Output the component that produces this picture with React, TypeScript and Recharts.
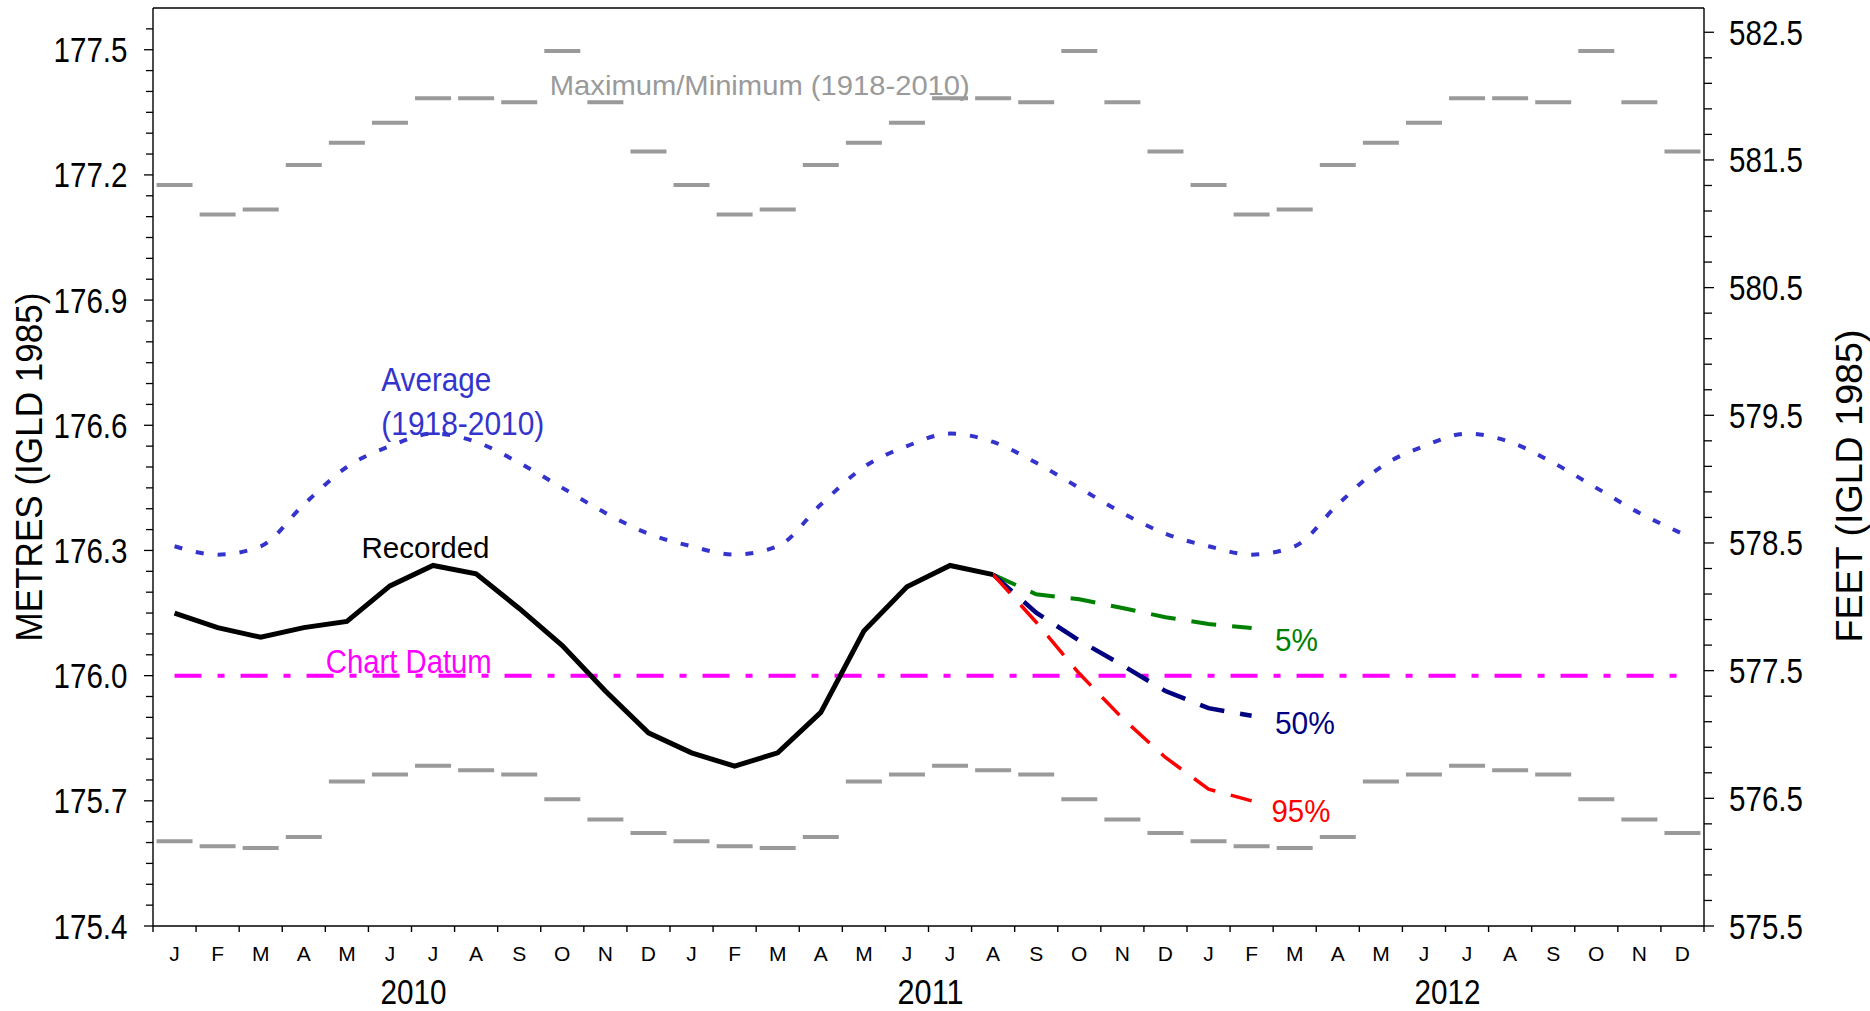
import React from 'react';
import { ComposedChart, Line, XAxis, YAxis, ReferenceLine, ReferenceDot } from 'recharts';

// ---------- data ----------
const MONTH_LETTERS = ['J', 'F', 'M', 'A', 'M', 'J', 'J', 'A', 'S', 'O', 'N', 'D'];
const YEARS = ['2010', '2011', '2012'];

// Period-of-record (1918-2010) monthly maximum / minimum / average, metres
const MAX_BY_MONTH = [177.176, 177.105, 177.117, 177.224, 177.277, 177.325, 177.384, 177.384, 177.374, 177.497, 177.374, 177.256];
const MIN_BY_MONTH = [175.603, 175.591, 175.587, 175.613, 175.746, 175.763, 175.784, 175.773, 175.763, 175.704, 175.655, 175.623];
const AVG_BY_MONTH = [176.31, 176.29, 176.31, 176.41, 176.5, 176.55, 176.58, 176.56, 176.51, 176.45, 176.39, 176.34];

// Recorded monthly levels Jan 2010 - Aug 2011
const RECORDED = [
  176.15, 176.115, 176.092, 176.115, 176.13, 176.215, 176.264, 176.244, 176.161, 176.072, 175.963, 175.863,
  175.815, 175.783, 175.815, 175.912, 176.107, 176.213, 176.264, 176.242,
];

// Forecasts Aug 2011 - Feb 2012
const FORECAST_START = 19;
const P5 = [176.242, 176.195, 176.183, 176.162, 176.14, 176.124, 176.114];
const P50 = [176.242, 176.151, 176.084, 176.025, 175.963, 175.922, 175.904];
const P95 = [176.242, 176.128, 176.005, 175.898, 175.804, 175.728, 175.7];

const CHART_DATUM = 176.0;

const METRE_MAJOR_TICKS = [175.4, 175.7, 176.0, 176.3, 176.6, 176.9, 177.2, 177.5];
const FEET_MAJOR_TICKS = [575.5, 576.5, 577.5, 578.5, 579.5, 580.5, 581.5, 582.5];
const METRE_DOMAIN = [175.4, 177.6];
const FEET_DOMAIN = [575.5, 582.69];
const METRE_MINOR_STEP = 0.05;
const FEET_MINOR_STEP = 0.2;

// ---------- derived tables ----------
const N_MONTHS = YEARS.length * 12;
const rows = Array.from({ length: N_MONTHS }, (_, i) => {
  const f = i - FORECAST_START;
  return {
    x: i + 0.5,
    max: MAX_BY_MONTH[i % 12],
    min: MIN_BY_MONTH[i % 12],
    avg: AVG_BY_MONTH[i % 12],
    datum: CHART_DATUM,
    recorded: i < RECORDED.length ? RECORDED[i] : undefined,
    p5: f >= 0 && f < P5.length ? P5[f] : undefined,
    p50: f >= 0 && f < P50.length ? P50[f] : undefined,
    p95: f >= 0 && f < P95.length ? P95[f] : undefined,
  };
});

const xTicks: number[] = [];
for (let i = 0; i <= N_MONTHS; i++) {
  xTicks.push(i);
  if (i < N_MONTHS) xTicks.push(i + 0.5);
}

const stepTicks = (lo: number, hi: number, step: number) => {
  const out: number[] = [];
  const n = Math.round((hi - lo) / step);
  for (let k = 0; k <= n; k++) out.push(Math.round((lo + k * step) * 1000) / 1000);
  return out;
};
const metreTicks = stepTicks(METRE_MAJOR_TICKS[0], 177.55, METRE_MINOR_STEP);
const feetTicks = stepTicks(FEET_MAJOR_TICKS[0], FEET_MAJOR_TICKS[FEET_MAJOR_TICKS.length - 1], FEET_MINOR_STEP);
const isMajor = (v: number, majors: number[]) => majors.some((m) => Math.abs(m - v) < 1e-6);

// ---------- styling ----------
const FONT = '"Liberation Sans", Arial, sans-serif';
const GRAY = '#9a9a9a';
const AVG_BLUE = '#3434cc';

const XTick = (props: any) => {
  const { x, y, payload } = props;
  const v = payload.value as number;
  if (Number.isInteger(v)) {
    const yearIdx = (v - 6) / 12;
    const showYear = Number.isInteger(yearIdx) && yearIdx >= 0 && yearIdx < YEARS.length;
    return (
      <g>
        <line x1={x} x2={x} y1={y} y2={y + 6} stroke="#000" strokeWidth={1.4} />
        {showYear && (
          <text x={x + 2} y={y + 77.5} textAnchor="middle" fontSize={35} fontFamily={FONT} fill="#000" textLength={66} lengthAdjust="spacingAndGlyphs">
            {YEARS[yearIdx]}
          </text>
        )}
      </g>
    );
  }
  return (
    <text x={x} y={y + 35} textAnchor="middle" fontSize={21} fontFamily={FONT} fill="#000">
      {MONTH_LETTERS[Math.floor(v) % 12]}
    </text>
  );
};

const LeftTick = (props: any) => {
  const { x, y, payload } = props;
  const v = payload.value as number;
  const major = isMajor(v, METRE_MAJOR_TICKS);
  return (
    <g>
      <line x1={x - (major ? 9 : 7)} x2={x} y1={y} y2={y} stroke="#000" strokeWidth={1.3} />
      {major && (
        <text x={x - 25.5} y={y} dy={12.5} textAnchor="end" fontSize={35} fontFamily={FONT} fill="#000" textLength={74} lengthAdjust="spacingAndGlyphs">
          {v.toFixed(1)}
        </text>
      )}
    </g>
  );
};

const RightTick = (props: any) => {
  const { x, y, payload } = props;
  const v = payload.value as number;
  const major = isMajor(v, FEET_MAJOR_TICKS);
  return (
    <g>
      <line x1={x} x2={x + (major ? 10 : 8)} y1={y} y2={y} stroke="#000" strokeWidth={1.3} />
      {major && (
        <text x={x + 25} y={y} dy={12.5} textAnchor="start" fontSize={35} fontFamily={FONT} fill="#000" textLength={74} lengthAdjust="spacingAndGlyphs">
          {v.toFixed(1)}
        </text>
      )}
    </g>
  );
};

const LeftTitle = (props: any) => {
  const vb = props.viewBox || { x: 0, y: 8, width: 153, height: 918 };
  const cx = vb.x + 42;
  const cy = vb.y + vb.height / 2;
  return (
    <text x={cx} y={cy} transform={`rotate(-90 ${cx} ${cy})`} textAnchor="middle" fontSize={37} fontFamily={FONT} fill="#000" textLength={349} lengthAdjust="spacingAndGlyphs">
      METRES (IGLD 1985)
    </text>
  );
};

const RightTitle = (props: any) => {
  const vb = props.viewBox || { x: 1704, y: 8, width: 166, height: 918 };
  const cx = vb.x + 158;
  const cy = vb.y + vb.height / 2 + 19;
  return (
    <text x={cx} y={cy} transform={`rotate(-90 ${cx} ${cy})`} textAnchor="middle" fontSize={37} fontFamily={FONT} fill="#000" textLength={313} lengthAdjust="spacingAndGlyphs">
      FEET (IGLD 1985)
    </text>
  );
};

const DashMark = (props: any) => {
  const { cx, cy } = props;
  if (cx == null || cy == null) return <g />;
  return <line x1={cx - 18} x2={cx + 18} y1={cy} y2={cy} stroke={GRAY} strokeWidth={4} />;
};

type Note = { text: string; x: number; y: number; size: number; len: number; color: string };
const NOTES: Note[] = [
  { text: 'Maximum/Minimum (1918-2010)', x: 9.21, y: 177.392, size: 28, len: 420, color: GRAY },
  { text: 'Average', x: 5.3, y: 176.681, size: 34, len: 110, color: AVG_BLUE },
  { text: '(1918-2010)', x: 5.3, y: 176.577, size: 34, len: 163, color: AVG_BLUE },
  { text: 'Recorded', x: 4.84, y: 176.281, size: 30, len: 128, color: '#000' },
  { text: 'Chart Datum', x: 4.01, y: 176.006, size: 34, len: 166, color: '#ff00ff' },
  { text: '5%', x: 26.04, y: 176.058, size: 32, len: 43, color: '#008000' },
  { text: '50%', x: 26.04, y: 175.86, size: 32, len: 60, color: '#000080' },
  { text: '95%', x: 25.96, y: 175.65, size: 32, len: 59, color: '#ff0000' },
];

export default function App() {
  return (
    <div style={{ position: 'absolute', left: 0, top: 0, width: 1870, height: 1011, background: '#fff' }}>
      <ComposedChart width={1870} height={1011} data={rows} margin={{ top: 8, right: 0, bottom: 0, left: 0 }}>
        <XAxis
          dataKey="x"
          type="number"
          domain={[0, N_MONTHS]}
          ticks={xTicks}
          interval={0}
          tickSize={0}
          tickMargin={0}
          tickLine={false}
          tick={(p: any) => <XTick {...p} />}
          axisLine={{ stroke: '#000', strokeWidth: 1.4 }}
          height={85}
          allowDataOverflow
        />
        <YAxis
          yAxisId="m"
          orientation="left"
          type="number"
          domain={METRE_DOMAIN}
          ticks={metreTicks}
          interval={0}
          tickSize={0}
          tickMargin={0}
          tickLine={false}
          tick={(p: any) => <LeftTick {...p} />}
          axisLine={{ stroke: '#000', strokeWidth: 1.4 }}
          width={153}
          allowDataOverflow
          label={(p: any) => <LeftTitle {...p} />}
        />
        <YAxis
          yAxisId="ft"
          orientation="right"
          type="number"
          domain={FEET_DOMAIN}
          ticks={feetTicks}
          interval={0}
          tickSize={0}
          tickMargin={0}
          tickLine={false}
          tick={(p: any) => <RightTick {...p} />}
          axisLine={{ stroke: '#000', strokeWidth: 1.4 }}
          width={166}
          allowDataOverflow
          label={(p: any) => <RightTitle {...p} />}
        />
        <ReferenceLine yAxisId="m" y={METRE_DOMAIN[1]} stroke="#000" strokeWidth={1.4} />

        {NOTES.map((n) => (
          <ReferenceDot
            key={n.text}
            yAxisId="m"
            x={n.x}
            y={n.y}
            ifOverflow="visible"
            shape={(p: any) => (
              <text x={p.cx} y={p.cy} fontSize={n.size} fontFamily={FONT} fill={n.color} textLength={n.len} lengthAdjust="spacingAndGlyphs">
                {n.text}
              </text>
            )}
          />
        ))}

        <Line yAxisId="m" dataKey="max" stroke="none" strokeWidth={0} dot={(p: any) => <DashMark key={`mx${p.index}`} {...p} />} activeDot={false} isAnimationActive={false} />
        <Line yAxisId="m" dataKey="min" stroke="none" strokeWidth={0} dot={(p: any) => <DashMark key={`mn${p.index}`} {...p} />} activeDot={false} isAnimationActive={false} />
        <Line yAxisId="m" type="monotone" dataKey="avg" stroke={AVG_BLUE} strokeWidth={4} strokeDasharray="8 14" dot={false} activeDot={false} isAnimationActive={false} />
        <Line yAxisId="m" dataKey="datum" stroke="#ff00ff" strokeWidth={4} strokeDasharray="27 16 7 16" dot={false} activeDot={false} isAnimationActive={false} />
        <Line yAxisId="m" dataKey="p5" stroke="#008000" strokeWidth={4} strokeDasharray="25 16" dot={false} activeDot={false} isAnimationActive={false} />
        <Line yAxisId="m" dataKey="p50" stroke="#000080" strokeWidth={4.5} strokeDasharray="25 16" dot={false} activeDot={false} isAnimationActive={false} />
        <Line yAxisId="m" dataKey="p95" stroke="#ff0000" strokeWidth={3.5} strokeDasharray="25 16" dot={false} activeDot={false} isAnimationActive={false} />
        <Line yAxisId="m" dataKey="recorded" stroke="#000" strokeWidth={5} dot={false} activeDot={false} isAnimationActive={false} />
      </ComposedChart>
    </div>
  );
}
